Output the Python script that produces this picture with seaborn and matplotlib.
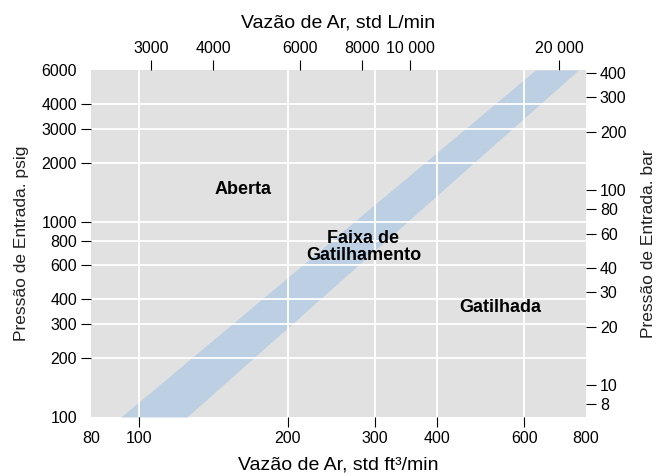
import numpy as np
import matplotlib
matplotlib.use("Agg")
import matplotlib.pyplot as plt
import seaborn as sns

# bottom axis: air flow, std ft3/min
flow_ticks = [100, 200, 300, 400, 600]
flow_edge_ticks = [80, 800]
# top axis: air flow, std L/min
lmin_ticks = [3000, 4000, 6000, 8000, 10000, 20000]
lmin_labels = ["3000", "4000", "6000", "8000", "10 000", "20 000"]
# left axis: inlet pressure, psig
psig_ticks = [200, 300, 400, 600, 800, 1000, 2000, 3000, 4000]
psig_edge_ticks = [100, 6000]
# right axis: inlet pressure, bar
bar_ticks = [8, 10, 20, 30, 40, 60, 80, 100, 200, 300, 400]

# trip band (flow at lower and upper edge of band for each pressure)
band_psig = [100, 6000]
band_flow_low = [92, 632]
band_flow_high = [125, 772]

FT3_TO_L = 28.317
BAR_TO_PSI = 14.5038

sns.set_theme(style="darkgrid", rc={
    "axes.facecolor": "#e1e1e1",
    "grid.color": "white",
    "grid.linewidth": 1.3,
    "text.color": "black",
    "axes.labelcolor": "black",
})
plt.rcParams["font.family"] = ["Liberation Sans", "DejaVu Sans"]

fig = plt.figure(figsize=(6.57, 4.74), dpi=100)
ax = fig.add_axes([0.1385, 0.1203, 0.7535, 0.732])
ax.set_xscale("log")
ax.set_yscale("log")
ax.set_xlim(80, 800)
ax.set_ylim(100, 6000)

ax.fill_betweenx(band_psig, band_flow_low, band_flow_high,
                 color="#bccfe3", linewidth=0, zorder=0.2)

for s in ax.spines.values():
    s.set_visible(False)

tick_kw = dict(length=7, width=0.8, color="black", labelsize=11.5,
               labelcolor="black", pad=3)
ax.set_xticks(flow_ticks, [str(v) for v in flow_ticks])
ax.set_xticks(flow_edge_ticks, [str(v) for v in flow_edge_ticks], minor=True)
ax.set_yticks(psig_ticks, [str(v) for v in psig_ticks])
ax.set_yticks(psig_edge_ticks, [str(v) for v in psig_edge_ticks], minor=True)
ax.tick_params(which="both", bottom=True, left=True)
ax.tick_params(which="major", **tick_kw)
ax.tick_params(which="minor", length=0, pad=10, labelsize=11.5,
               labelcolor="black")
ax.grid(True, which="major")
ax.grid(False, which="minor")

ax.set_xlabel("Vazão de Ar, std ft³/min", fontsize=14, labelpad=8)
ax.set_ylabel("Pressão de Entrada. psig", fontsize=12.5, labelpad=9,
              color="#222222")

top = ax.secondary_xaxis("top", functions=(lambda x: x * FT3_TO_L,
                                           lambda x: x / FT3_TO_L))
top.set_xticks(lmin_ticks, lmin_labels)
top.set_xticks([], minor=True)
top.tick_params(which="major", top=True, **tick_kw)
top.set_xlabel("Vazão de Ar, std L/min", fontsize=14, labelpad=10)
for s in top.spines.values():
    s.set_visible(False)

right = ax.secondary_yaxis("right", functions=(lambda p: p / BAR_TO_PSI,
                                               lambda b: b * BAR_TO_PSI))
right.set_yticks(bar_ticks, [str(v) for v in bar_ticks])
right.set_yticks([], minor=True)
right.tick_params(which="major", right=True, **tick_kw)
right.set_ylabel("Pressão de Entrada. bar", fontsize=12.5, labelpad=10,
                 color="#222222")
for s in right.spines.values():
    s.set_visible(False)

ax.text(162, 1470, "Aberta", fontsize=13, fontweight="bold",
        ha="center", va="center")
ax.text(284, 745, "Faixa de\nGatilhamento", fontsize=13, fontweight="bold",
        ha="center", va="center", linespacing=1.0)
ax.text(537, 362, "Gatilhada", fontsize=13, fontweight="bold",
        ha="center", va="center")

fig.savefig("out.png", dpi=100)
